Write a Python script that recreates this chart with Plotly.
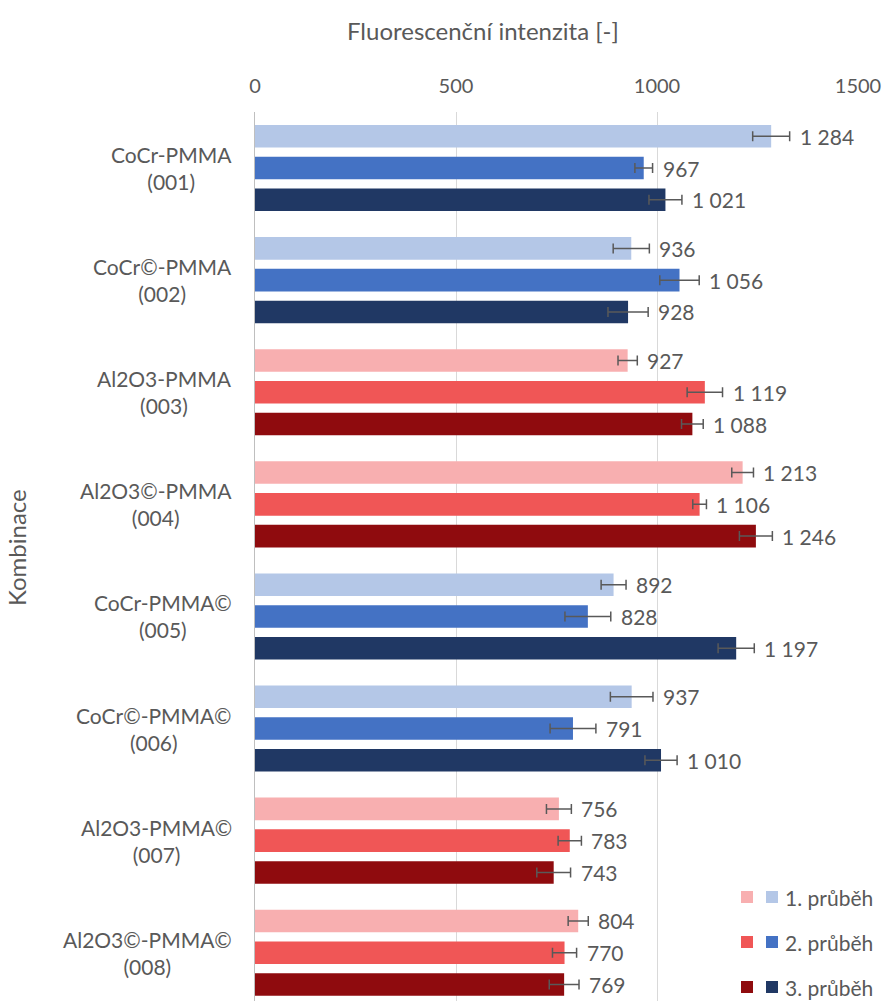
import plotly.graph_objects as go

categories = ["CoCr-PMMA<br>(001)", "CoCr©-PMMA<br>(002)", "Al2O3-PMMA<br>(003)", "Al2O3©-PMMA<br>(004)",
              "CoCr-PMMA©<br>(005)", "CoCr©-PMMA©<br>(006)", "Al2O3-PMMA©<br>(007)", "Al2O3©-PMMA©<br>(008)"]
material_type = ["CoCr", "CoCr", "Al2O3", "Al2O3", "CoCr", "CoCr", "Al2O3", "Al2O3"]
series_names = ["1. průběh", "2. průběh", "3. průběh"]

run1 = [1284, 936, 927, 1213, 892, 937, 756, 804]
run2 = [967, 1056, 1119, 1106, 828, 791, 783, 770]
run3 = [1021, 928, 1088, 1246, 1197, 1010, 743, 769]
err1 = [46, 45, 24, 27, 31, 53, 31, 25]
err2 = [22, 49, 44, 17, 57, 57, 29, 30]
err3 = [41, 50, 27, 41, 45, 40, 42, 37]

x_ticks = [0, 500, 1000, 1500]
x_title = "Fluorescenční intenzita [-]"
y_title = "Kombinace"

blue_colors = ["#B4C7E7", "#4472C4", "#203864"]
red_colors = ["#F8AFB0", "#F05656", "#8F0B0E"]

FONT = "Lato"
GRAY = "#595959"

runs = [run1, run2, run3]
errs = [err1, err2, err3]

W, H = 885, 1001
ML, MR, MT, MB = 255, 27, 112, 0
bargap = 0.15
nser = 3
band_px = 112.1

fig = go.Figure()
for i in range(nser):
    cols = [blue_colors[i] if m == "CoCr" else red_colors[i] for m in material_type]
    fig.add_trace(go.Bar(
        y=categories, x=runs[i], orientation="h", name=series_names[i],
        marker=dict(color=cols, line=dict(width=0)),
        error_x=dict(type="data", array=errs[i], symmetric=True, color=GRAY, thickness=1.5, width=5),
        showlegend=False,
    ))

annotations = []
slot = (1 - bargap) / nser
for i in range(nser):
    for j, cat in enumerate(categories):
        v = runs[i][j]
        label = f"{v:,}".replace(",", " ")
        annotations.append(dict(
            x=v + errs[i][j], y=j + (i - 1) * slot, xref="x", yref="y",
            text=label, showarrow=False, xanchor="left", yanchor="middle", xshift=8,
            font=dict(family=FONT, size=21, color=GRAY)))

# category labels (centered multi-line)
for j, cat in enumerate(categories):
    annotations.append(dict(
        x=0, y=j, xref="x", yref="y", text=cat, showarrow=False,
        xanchor="right", yanchor="middle", align="center", xshift=-21,
        font=dict(family=FONT, size=21, color=GRAY)))

pw = W - ML - MR
ph = H - MT - MB
def px_x(x):
    return (x - ML) / pw
def px_y(y):
    return (H - MB - y) / ph

# axis titles
annotations.append(dict(x=px_x(483), y=px_y(30), xref="paper", yref="paper",
                        text=x_title, showarrow=False, xanchor="center", yanchor="middle",
                        font=dict(family=FONT, size=24, color=GRAY)))
annotations.append(dict(x=px_x(16), y=px_y(547), xref="paper", yref="paper",
                        text=y_title, showarrow=False, textangle=-90,
                        xanchor="center", yanchor="middle",
                        font=dict(family=FONT, size=24, color=GRAY)))

# custom legend
shapes = [dict(type="rect", xref="paper", yref="paper", x0=px_x(728), x1=px_x(885),
               y0=px_y(1001), y1=px_y(877), fillcolor="white", line=dict(width=0), layer="above")]
row_y = [897, 942, 987]
for i in range(nser):
    cy = row_y[i]
    shapes.append(dict(type="rect", xref="paper", yref="paper", x0=px_x(741), x1=px_x(753),
                       y0=px_y(cy + 6), y1=px_y(cy - 6), fillcolor=red_colors[i], line=dict(width=0), layer="above"))
    shapes.append(dict(type="rect", xref="paper", yref="paper", x0=px_x(766), x1=px_x(778),
                       y0=px_y(cy + 6), y1=px_y(cy - 6), fillcolor=blue_colors[i], line=dict(width=0), layer="above"))
    annotations.append(dict(x=px_x(783), y=px_y(cy), xref="paper", yref="paper", text=series_names[i],
                            showarrow=False, xanchor="left", yanchor="middle",
                            font=dict(family=FONT, size=21, color=GRAY)))

fig.update_layout(
    width=W, height=H,
    margin=dict(l=ML, r=MR, t=MT, b=MB, pad=0),
    paper_bgcolor="white", plot_bgcolor="white",
    barmode="group", bargap=bargap, bargroupgap=0.29,
    font=dict(family=FONT, size=20, color=GRAY),
    xaxis=dict(side="top", range=[0, 1500], tickvals=x_ticks, ticktext=[str(t) for t in x_ticks],
               showgrid=True, gridcolor="#D9D9D9", gridwidth=1, zeroline=False, showline=False,
               ticks="", ticklabelstandoff=14, tickfont=dict(family=FONT, size=20, color=GRAY)),
    yaxis=dict(range=[-0.5 + ph / band_px, -0.5], showticklabels=False, ticks="",
               showgrid=False, zeroline=False, showline=True, linecolor="#BFBFBF", linewidth=1),
    annotations=annotations, shapes=shapes,
)

fig.write_html("out.html", config={"displayModeBar": False},
               post_script="document.body.style.margin='0';document.body.style.padding='0';document.body.style.overflow='hidden';")
